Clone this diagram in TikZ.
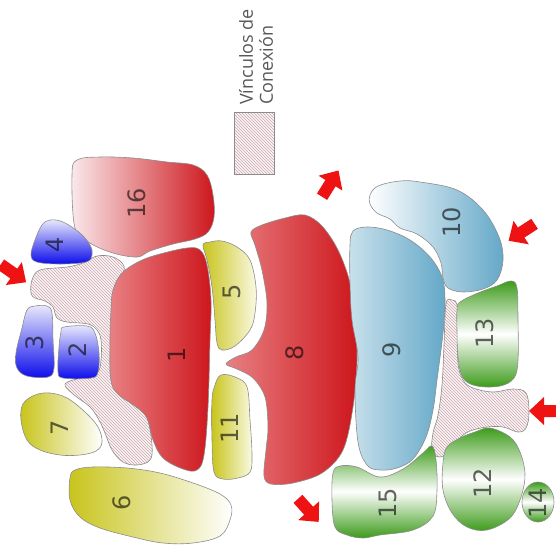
\documentclass[tikz,border=0pt]{standalone}
\usepackage{fontspec}
\usetikzlibrary{patterns}
\newfontfamily\numfont{DejaVu Sans}
\newfontfamily\legfont{Open Sans}
\definecolor{redS}{RGB}{205,22,28}
\definecolor{pinkS}{RGB}{250,232,234}
\definecolor{roseS}{RGB}{232,128,130}
\definecolor{blueS}{RGB}{12,12,235}
\definecolor{lavS}{RGB}{232,232,252}
\definecolor{oliveS}{RGB}{200,196,28}
\definecolor{creamS}{RGB}{250,250,228}
\definecolor{steelS}{RGB}{100,168,200}
\definecolor{greenS}{RGB}{60,155,25}
\definecolor{hatchbg}{RGB}{252,243,244}
\definecolor{hatchln}{RGB}{200,172,178}
\definecolor{rimS}{RGB}{140,140,140}
\definecolor{arrowS}{RGB}{238,18,18}

\begin{document}
\begin{tikzpicture}[x=1pt, y=-1pt,
  rim/.style={draw=rimS, line width=0.6pt},
  hatched/.style={draw=rimS, line width=0.6pt, preaction={fill=hatchbg}, pattern=north west lines, pattern color=hatchln},
  greenfade/.style={rim, top color=greenS, bottom color=greenS, middle color=white},
  num/.style={rotate=90, font=\numfont\fontsize{24}{24}\selectfont, text=black, text opacity=0.6, inner sep=0pt},
  redarrow/.pic={\fill[arrowS] (-15,-6) -- (1,-6) -- (1,-14) -- (16,0) -- (1,14) -- (1,6) -- (-15,6) -- cycle;}]

\useasboundingbox (0,0) rectangle (556,555);

\draw[hatched] (234,112) rectangle (274,174);

\node[rotate=90, anchor=west, align=left, inner sep=0pt, text=black!65, font=\legfont\fontsize{18}{20}\selectfont] (L) at (256,105) {Vínculos de\\Conexión};

\draw[hatched] plot[smooth cycle, tension=0.6] coordinates {(31,293) (32,280) (40,270) (67,267) (83,263) (97,256) (113,257) (124,266) (121,280) (115,300) (112,330) (110,360) (111,380) (118,394) (135,406) (147,418) (152,445) (150,460) (137,465) (123,462) (112,450) (105,433) (99,420) (90,407) (73,394) (65,384) (80,378) (97,373) (101,360) (101,340) (97,330) (88,324) (67,322) (57,318) (53,307) (45,301) (35,298)};

\draw[hatched] plot[smooth cycle, tension=0.6] coordinates {(446,304) (452,300) (457,305) (458,330) (458,363) (463,380) (473,388) (493,392) (513,389) (526,393) (529,413) (526,428) (518,432) (503,427) (487,427) (470,431) (460,438) (452,450) (440,457) (432,451) (433,433) (438,415) (442,385) (444,345)};

\draw[rim, left color=pinkS, right color=redS] plot[smooth cycle, tension=0.6] coordinates {(72,175) (77,160) (100,157) (133,158) (167,162) (193,165) (207,175) (213,195) (214,217) (208,232) (195,239) (173,244) (150,251) (137,257) (113,253) (90,243) (75,228)};

\draw[rim, left color=roseS, right color=redS] plot[smooth cycle, tension=0.6] coordinates {(113,290) (122,273) (140,261) (160,254) (187,248) (200,250) (207,265) (211,300) (210,340) (208,407) (204,455) (197,470) (183,469) (163,458) (153,440) (147,418) (135,406) (118,394) (111,380) (110,340) (111,310)};

\draw[rim, left color=roseS, right color=redS] plot[smooth cycle, tension=0.55] coordinates {(251,232) (262,225) (285,218) (305,215) (322,226) (338,250) (350,283) (355,323) (357,360) (353,407) (343,450) (322,473) (293,483) (271,484) (264,476) (266,450) (268,427) (265,397) (253,378) (237,369) (226,364) (236,357) (252,350) (264,330) (267,303) (262,270) (255,245)};

\draw[rim, top color=lavS, bottom color=blueS] plot[smooth cycle, tension=0.6] coordinates {(42,225) (50,220) (63,222) (80,233) (90,245) (92,255) (86,262) (60,264) (37,262) (31,255) (35,240)};

\draw[rim, top color=lavS, bottom color=blueS] plot[smooth cycle, tension=0.6] coordinates {(27,310) (35,306) (47,306) (52,313) (53,340) (54,368) (48,377) (27,376) (17,368) (16,353) (22,328)};

\draw[rim, top color=lavS, bottom color=blueS] plot[smooth cycle, tension=0.6] coordinates {(64,327) (87,326) (95,333) (99,353) (98,372) (91,378) (63,378) (58,371) (59,347) (61,332)};

\draw[rim, left color=oliveS, right color=white] plot[smooth cycle, tension=0.6] coordinates {(23,404) (35,395) (50,393) (67,398) (85,412) (98,427) (102,442) (96,451) (80,455) (60,455) (40,450) (27,440) (21,420)};

\draw[rim, left color=oliveS, right color=white] plot[smooth cycle, tension=0.6] coordinates {(70,478) (75,470) (93,467) (127,468) (160,473) (193,483) (220,494) (231,505) (230,520) (220,536) (193,543) (163,543) (133,537) (100,528) (80,517) (70,500)};

\draw[rim, left color=oliveS, right color=creamS] plot[smooth cycle, tension=0.6] coordinates {(203,245) (210,242) (222,241) (237,247) (250,260) (256,287) (255,313) (250,330) (235,346) (222,350) (217,343) (215,320) (212,287) (207,260)};

\draw[rim, left color=oliveS, right color=creamS] plot[smooth cycle, tension=0.6] coordinates {(215,385) (221,375) (235,377) (247,387) (250,420) (252,455) (250,472) (238,478) (223,479) (214,472) (212,440) (212,400)};

\draw[rim, left color=steelS!35, right color=steelS] plot[smooth cycle, tension=0.6] coordinates {(353,231) (367,227) (387,230) (410,240) (430,257) (442,277) (445,300) (443,333) (437,380) (433,410) (426,437) (413,459) (397,468) (380,470) (367,465) (358,442) (355,390) (358,357) (352,320) (350,283) (350,245)};

\draw[rim, left color=white, right color=steelS] plot[smooth cycle, tension=0.6] coordinates {(370,195) (378,186) (400,181) (420,182) (457,190) (483,210) (499,237) (503,260) (497,280) (483,289) (463,292) (448,288) (443,278) (441,263) (433,247) (417,234) (400,228) (390,219) (377,213) (370,204)};

\draw[greenfade] plot[smooth cycle, tension=0.6] coordinates {(460,302) (478,293) (497,286) (511,281) (517,288) (518,320) (518,360) (514,378) (500,386) (477,386) (463,378) (458,357) (457,330) (457,310)};

\draw[greenfade] plot[smooth cycle, tension=0.6] coordinates {(447,447) (460,438) (475,432) (490,428) (510,437) (520,452) (525,474) (521,497) (510,518) (487,530) (467,527) (452,513) (443,490) (443,463)};

\draw[greenfade] (538,502) ellipse [x radius=16, y radius=20];

\draw[greenfade] plot[smooth cycle, tension=0.6] coordinates {(333,473) (340,466) (357,467) (380,477) (403,469) (423,453) (432,446) (436,460) (437,490) (433,516) (413,530) (380,535) (363,538) (347,535) (335,527) (332,500)};

\node[num] (N1) at (177,355) {1};

\node[num] (N2) at (78,350) {2};

\node[num] (N3) at (35,343) {3};

\node[num] (N4) at (55,245) {4};

\node[num] (N5) at (232,292) {5};

\node[num] (N6) at (122,503) {6};

\node[num] (N7) at (60,428) {7};

\node[num] (N8) at (295,353) {8};

\node[num] (N9) at (392,350) {9};

\node[num] (N10) at (452,222) {10};

\node[num] (N11) at (230,428) {11};

\node[num] (N12) at (483,483) {12};

\node[num] (N13) at (485,333) {13};

\node[num] (N14) at (538,503) {14};

\node[num] (N15) at (388,503) {15};

\node[num] (N16) at (137,203) {16};

\pic[rotate=-35] at (13,273) {redarrow};

\pic[rotate=58] at (330,184) {redarrow};

\pic[rotate=-147] at (522,232) {redarrow};

\pic[rotate=180] at (545,411) {redarrow};

\pic[rotate=-48] at (308,510) {redarrow};
\end{tikzpicture}
\end{document}
